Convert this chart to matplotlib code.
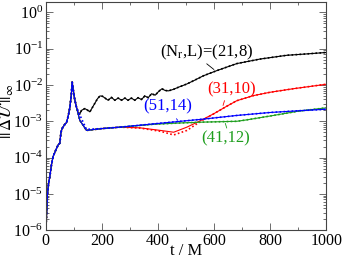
import matplotlib
matplotlib.use("Agg")
import matplotlib.pyplot as plt
import numpy as np
from matplotlib.ticker import LogLocator, MultipleLocator, NullFormatter

plt.rcParams["font.family"] = ["Liberation Serif", "DejaVu Serif"]
plt.rcParams["mathtext.fontset"] = "stix"

# early part, shared by all runs
t_early = [0, 3, 6, 10, 14, 20, 26, 35, 44, 50, 54, 58, 66, 74, 80, 86, 91, 94, 98, 103, 109]
u_early = [1e-6, 3e-6, 1e-5, 2e-5, 2.9e-5, 6.3e-5, 1.07e-4, 1.58e-4, 2.24e-4, 2.5e-4, 5e-4,
           6.3e-4, 7.9e-4, 9.3e-4, 1.41e-3, 2.5e-3, 5.6e-3, 1.2e-2, 7.1e-3, 4e-3, 2.5e-3]

# (21,8)
t_21 = [115, 121, 127, 139, 150, 157, 166, 175, 184, 193, 202, 211, 222, 234, 246, 258, 270,
        282, 293, 305, 317, 329, 341, 353, 365, 377, 390, 402, 414, 425, 437, 455, 473, 503,
        530, 562, 610, 681, 764, 859, 930, 1000]
u_21 = [1.78e-3, 1.58e-3, 2.0e-3, 2.24e-3, 2.0e-3, 1.82e-3, 2.4e-3, 3.16e-3, 4.17e-3, 5.0e-3,
        4.9e-3, 4.37e-3, 3.8e-3, 4.57e-3, 3.8e-3, 4.37e-3, 3.8e-3, 4.37e-3, 3.8e-3, 4.37e-3,
        3.8e-3, 4.47e-3, 3.98e-3, 5.0e-3, 4.47e-3, 5.75e-3, 5.25e-3, 6.6e-3, 7.9e-3, 7.1e-3,
        6.9e-3, 7.6e-3, 8.7e-3, 1.07e-2, 1.35e-2, 1.8e-2, 2.5e-2, 3.9e-2, 5.2e-2, 6.6e-2,
        7.2e-2, 7.9e-2]

# (31,10)
t_31 = [121, 145, 200, 265, 336, 409, 456, 503, 552, 598, 645, 681, 740, 799, 882, 1000]
u_31 = [1.07e-3, 5.6e-4, 6.3e-4, 6.9e-4, 6.6e-4, 5.6e-4, 5.0e-4, 6.9e-4, 1.05e-3, 1.6e-3,
        2.6e-3, 3.7e-3, 5.1e-3, 6.3e-3, 7.9e-3, 1.05e-2]
u_31_dot = [1.07e-3, 5.6e-4, 6.3e-4, 6.9e-4, 6.5e-4, 5.3e-4, 4.2e-4, 5.6e-4, 1.0e-3, 1.6e-3,
            2.6e-3, 3.7e-3, 5.1e-3, 6.3e-3, 7.9e-3, 1.05e-2]

# (41,12)
t_41 = [121, 145, 200, 265, 385, 480, 562, 681, 718, 800, 900, 1000]
u_41 = [1.07e-3, 5.6e-4, 6.3e-4, 6.9e-4, 8.3e-4, 9.0e-4, 9.5e-4, 1.0e-3, 1.1e-3, 1.4e-3,
        1.9e-3, 2.35e-3]

# (51,14)
t_51 = [121, 145, 200, 265, 385, 480, 562, 681, 800, 900, 1000]
u_51 = [1.07e-3, 5.6e-4, 6.3e-4, 6.9e-4, 8.5e-4, 1.0e-3, 1.15e-3, 1.45e-3, 1.75e-3,
        1.95e-3, 2.15e-3]
u_51_dot = [1.5e-3, 6.0e-4, 6.3e-4, 6.9e-4, 8.5e-4, 1.0e-3, 1.15e-3, 1.45e-3, 1.75e-3,
            1.95e-3, 2.15e-3]

black, red, green, blue = "black", "#ff0000", "#1e9e1e", "#0000ff"

fig = plt.figure(figsize=(3.42, 2.58), dpi=100)
ax = fig.add_axes([0.134, 0.108, 0.82, 0.886])

dot = dict(linestyle=(0, (1, 1.4)), lw=1.2)
for tt, uu, ud, c in [(t_21, u_21, u_21, black), (t_31, u_31, u_31_dot, red),
                      (t_41, u_41, u_41, green), (t_51, u_51, u_51_dot, blue)]:
    ax.plot(t_early + tt, u_early + uu, color=c, lw=0.8)
    ax.plot(t_early + tt, u_early + ud, color=c, **dot)

ax.set_yscale("log")
ax.set_xlim(0, 1000)
ax.set_ylim(1e-6, 2)
ax.xaxis.set_major_locator(MultipleLocator(200))
ax.xaxis.set_minor_locator(MultipleLocator(100))
ax.yaxis.set_major_locator(LogLocator(base=10, numticks=10))
ax.yaxis.set_minor_locator(LogLocator(base=10, subs=np.arange(2, 10), numticks=20))
ax.yaxis.set_minor_formatter(NullFormatter())
ax.tick_params(which="both", direction="in", top=True, right=True, labelsize=11.5, width=0.6,
               color="#555555", pad=2)
ax.tick_params(which="major", length=5)
ax.tick_params(which="minor", length=2.5)
for s in ax.spines.values():
    s.set_linewidth(0.8)
    s.set_color("#444444")

ax.set_xlabel("t / M", fontsize=12)
ax.xaxis.set_label_coords(0.5, -0.058)
ax.set_ylabel(r"$||\,\Delta\mathcal{U}\,||_{\infty}$", fontsize=12)
ax.yaxis.set_label_coords(-0.105, 0.52)

fs = 12
ax.text(573, 0.079, r"(N$_{\rm r}$,L)=(21,8)", color=black, fontsize=fs, ha="center", va="center")
ax.annotate("", xy=(607, 2.4e-2), xytext=(566, 4.3e-2),
            arrowprops=dict(arrowstyle="-", lw=0.6, color=black))
ax.text(662, 7.6e-3, "(31,10)", color=red, fontsize=fs, ha="center", va="center")
ax.annotate("", xy=(629, 2.3e-3), xytext=(640, 4.4e-3),
            arrowprops=dict(arrowstyle="-", lw=0.6, color=red))
ax.text(434, 2.5e-3, "(51,14)", color=blue, fontsize=fs, ha="center", va="center")
ax.annotate("", xy=(477, 9.3e-4), xytext=(459, 1.35e-3),
            arrowprops=dict(arrowstyle="-", lw=0.6, color=blue))
ax.text(641, 3.3e-4, "(41,12)", color=green, fontsize=fs, ha="center", va="center")
ax.annotate("", xy=(648, 5.5e-4), xytext=(637, 1.04e-3),
            arrowprops=dict(arrowstyle="-", lw=0.6, color=green))

fig.savefig("out.png", dpi=100)
